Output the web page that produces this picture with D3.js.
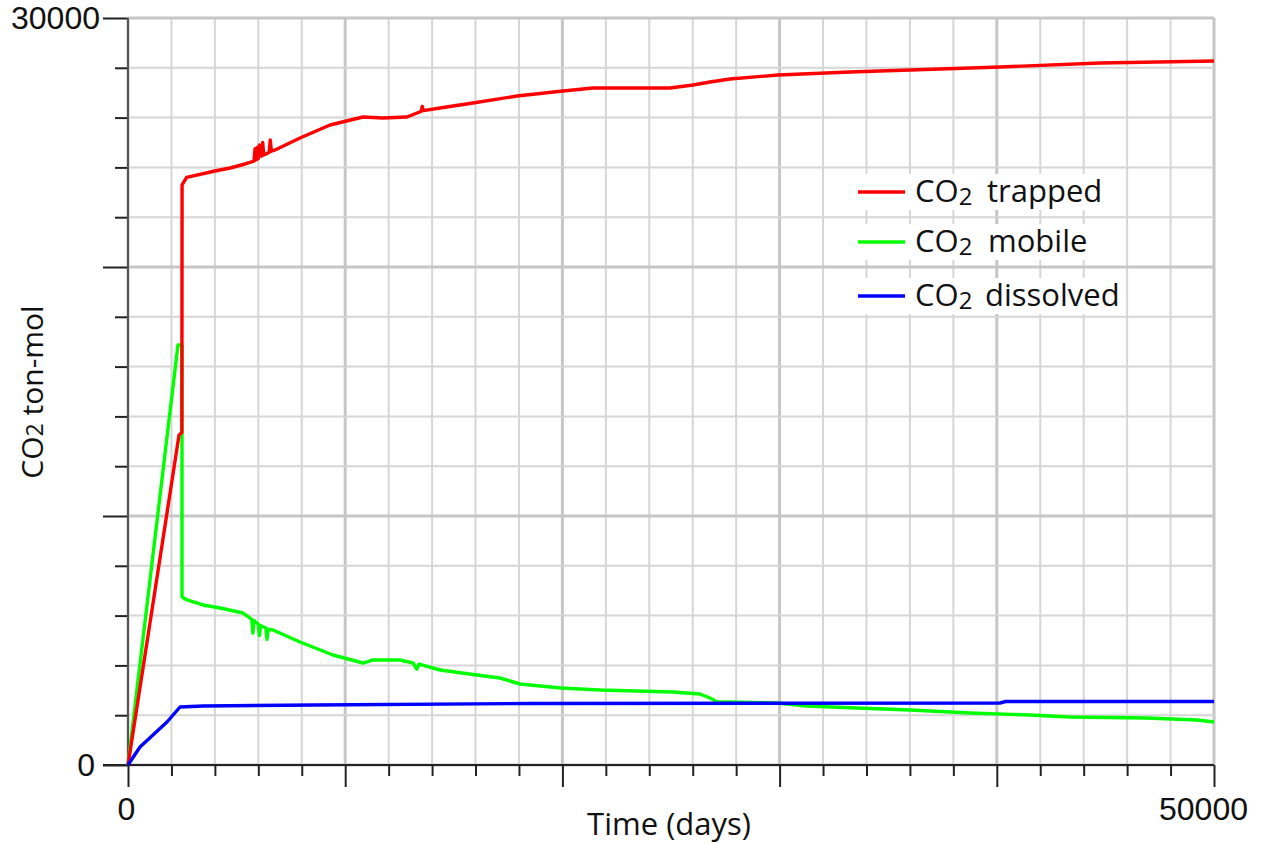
<!DOCTYPE html>
<html>
<head>
<meta charset="utf-8">
<script src="https://cdn.jsdelivr.net/npm/d3@7"></script>
<style>
  html, body { margin: 0; padding: 0; background: #fff; }
  svg { display: block; font-family: "Open Sans", "Noto Sans", sans-serif; }
</style>
</head>
<body>
<svg id="chart" width="1261" height="843"></svg>
<script>
// ---- data (time in days, CO2 in ton-mol) ----
const trappedT = [0, 2350, 2480, 2490, 2700, 4000, 4700, 5390, 5800, 5850, 5900, 5950, 6000, 6050, 6150, 6200, 6250, 6500, 6550, 6600, 6770, 7920, 9300, 10820, 11740, 12845, 13306, 13500, 13550, 13600, 14365, 15884, 17910, 20028, 21409, 24954, 26013, 26796, 27716, 29926, 33241, 40147, 44751, 50000];
const trappedV = [0, 13250, 13350, 23300, 23600, 23855, 23976, 24137, 24250, 24750, 24300, 24800, 24350, 24900, 24450, 25000, 24500, 24600, 25100, 24650, 24700, 25181, 25703, 26024, 25984, 26024, 26185, 26250, 26450, 26280, 26386, 26586, 26867, 27068, 27189, 27189, 27309, 27430, 27550, 27711, 27831, 28032, 28193, 28273];

const mobileT = [0, 2300, 2486, 2486, 2716, 3453, 4236, 5295, 5700, 5750, 5800, 6000, 6050, 6100, 6350, 6400, 6450, 6676, 7919, 9438, 10820, 11280, 12523, 13122, 13300, 13400, 14365, 16068, 17127, 18048, 19936, 21731, 25092, 26335, 26796, 27118, 29880, 31262, 33564, 36004, 38766, 41529, 43370, 46915, 49217, 50000];
const mobileV = [0, 16870, 16870, 6747, 6627, 6426, 6305, 6104, 5850, 5300, 5800, 5650, 5200, 5600, 5500, 5050, 5450, 5422, 4940, 4418, 4096, 4217, 4217, 4096, 3850, 4050, 3815, 3614, 3494, 3253, 3092, 3012, 2932, 2851, 2691, 2540, 2490, 2369, 2289, 2209, 2088, 2008, 1928, 1888, 1807, 1727];

const dissolvedT = [0, 552, 1796, 2394, 3453, 8600, 18500, 40147, 40400, 50000];
const dissolvedV = [0, 723, 1727, 2329, 2369, 2410, 2470, 2490, 2550, 2550];

const seriesNames = ["trapped", "mobile", "dissolved"];
const seriesColors = ["#ff0000", "#00ff00", "#0000ff"];

const xMajorTicks = [0, 10000, 20000, 30000, 40000, 50000];
const yMajorTicks = [0, 10000, 20000, 30000];
const xTickLabels = {0: "0", 50000: "50000"};
const yTickLabels = {0: "0", 30000: "30000"};
const xTitle = "Time (days)";

// ---- layout ----
const svg = d3.select("#chart");
const x = d3.scaleLinear().domain([0, 50000]).range([128, 1214]);
const y = d3.scaleLinear().domain([0, 30000]).range([765, 18]);

const xMinor = d3.range(0, 50001, 2000);
const yMinor = d3.range(0, 30001, 2000);

// grid
const grid = svg.append("g");
grid.selectAll(".vx").data(xMinor).enter().append("line")
  .attr("x1", d => x(d)).attr("x2", d => x(d))
  .attr("y1", y(0)).attr("y2", y(30000))
  .attr("stroke", d => d % 10000 === 0 ? "#c6c6c6" : "#d6d6d6")
  .attr("stroke-width", d => d % 10000 === 0 ? 3 : 2);
grid.selectAll(".hy").data(yMinor).enter().append("line")
  .attr("x1", x(0)).attr("x2", x(50000))
  .attr("y1", d => y(d)).attr("y2", d => y(d))
  .attr("stroke", d => d % 10000 === 0 ? "#c6c6c6" : "#d6d6d6")
  .attr("stroke-width", d => d % 10000 === 0 ? 3 : 2);

// axes
const axisColor = "#222";
function styleAxis(g) {
  g.select(".domain").remove();
  g.selectAll(".tick line").attr("stroke", axisColor).attr("stroke-width", 2);
  g.selectAll("text").attr("fill", "#111").attr("font-size", 32);
}
// minor y ticks
svg.append("g").attr("transform", `translate(${x(0)},0)`)
  .call(d3.axisLeft(y).tickValues(yMinor.filter(d => d % 10000 !== 0)).tickSize(13).tickFormat(""))
  .call(styleAxis);
// major y ticks + labels
const yg = svg.append("g").attr("transform", `translate(${x(0)},0)`)
  .call(d3.axisLeft(y).tickValues(yMajorTicks).tickSize(25).tickPadding(3)
        .tickFormat(d => yTickLabels[d] || ""))
  .call(styleAxis);
yg.selectAll(".tick text").filter(d => d === 0).attr("dx", -5);
// minor x ticks
svg.append("g").attr("transform", `translate(0,${y(0)})`)
  .call(d3.axisBottom(x).tickValues(xMinor.filter(d => d % 10000 !== 0)).tickSize(11).tickFormat(""))
  .call(styleAxis);
// major x ticks + labels
const xg = svg.append("g").attr("transform", `translate(0,${y(0)})`)
  .call(d3.axisBottom(x).tickValues(xMajorTicks).tickSize(22).tickPadding(10)
        .tickFormat(d => xTickLabels[d] !== undefined ? xTickLabels[d] : ""))
  .call(styleAxis);
xg.selectAll(".tick text").filter(d => d === 50000).attr("dx", -11);
xg.selectAll(".tick text").filter(d => d === 0).attr("dx", -2);

// axis lines
svg.append("line").attr("x1", x(0)).attr("x2", x(0)).attr("y1", y(30000)).attr("y2", y(0))
  .attr("stroke", "#555").attr("stroke-width", 2);
svg.append("line").attr("x1", 103).attr("x2", x(50000)).attr("y1", y(0)).attr("y2", y(0))
  .attr("stroke", "#222").attr("stroke-width", 2);

// lines
const seriesData = [
  trappedT.map((t, i) => [t, trappedV[i]]),
  mobileT.map((t, i) => [t, mobileV[i]]),
  dissolvedT.map((t, i) => [t, dissolvedV[i]])
];
const line = d3.line().x(d => x(d[0])).y(d => y(d[1]));
const drawOrder = [1, 0, 2];
drawOrder.forEach(i => {
  svg.append("path").datum(seriesData[i])
    .attr("d", line).attr("fill", "none")
    .attr("stroke", seriesColors[i]).attr("stroke-width", 3.4)
    .attr("stroke-linejoin", "round");
});

// legend
const legendY = [192, 242, 296];
const legendWordX = [987, 988, 985];
const leg = svg.append("g");
seriesNames.forEach((name, i) => {
  const ly = legendY[i];
  leg.append("rect").attr("x", 852).attr("y", ly - 18).attr("width", 268).attr("height", 36).attr("fill", "#fff");
  leg.append("line").attr("x1", 858).attr("x2", 905).attr("y1", ly).attr("y2", ly)
    .attr("stroke", seriesColors[i]).attr("stroke-width", 3.4);
  const t = leg.append("text").attr("x", 915).attr("y", ly + 10)
    .attr("font-size", 31).attr("fill", "#111");
  t.append("tspan").text("CO");
  t.append("tspan").attr("font-size", 24).attr("dy", 3).text("2");
  leg.append("text").attr("x", legendWordX[i]).attr("y", ly + 10)
    .attr("font-size", 31).attr("fill", "#111").text(name);
});

// axis titles
svg.append("text").attr("x", 669).attr("y", 835).attr("text-anchor", "middle")
  .attr("font-size", 31).attr("fill", "#111").text(xTitle);
const yt = svg.append("text").attr("transform", "translate(43,392) rotate(-90)")
  .attr("text-anchor", "middle").attr("font-size", 30).attr("fill", "#111");
yt.append("tspan").text("CO");
yt.append("tspan").attr("font-size", 23).text("2");
yt.append("tspan").text(" ton-mol");
</script>
</body>
</html>
